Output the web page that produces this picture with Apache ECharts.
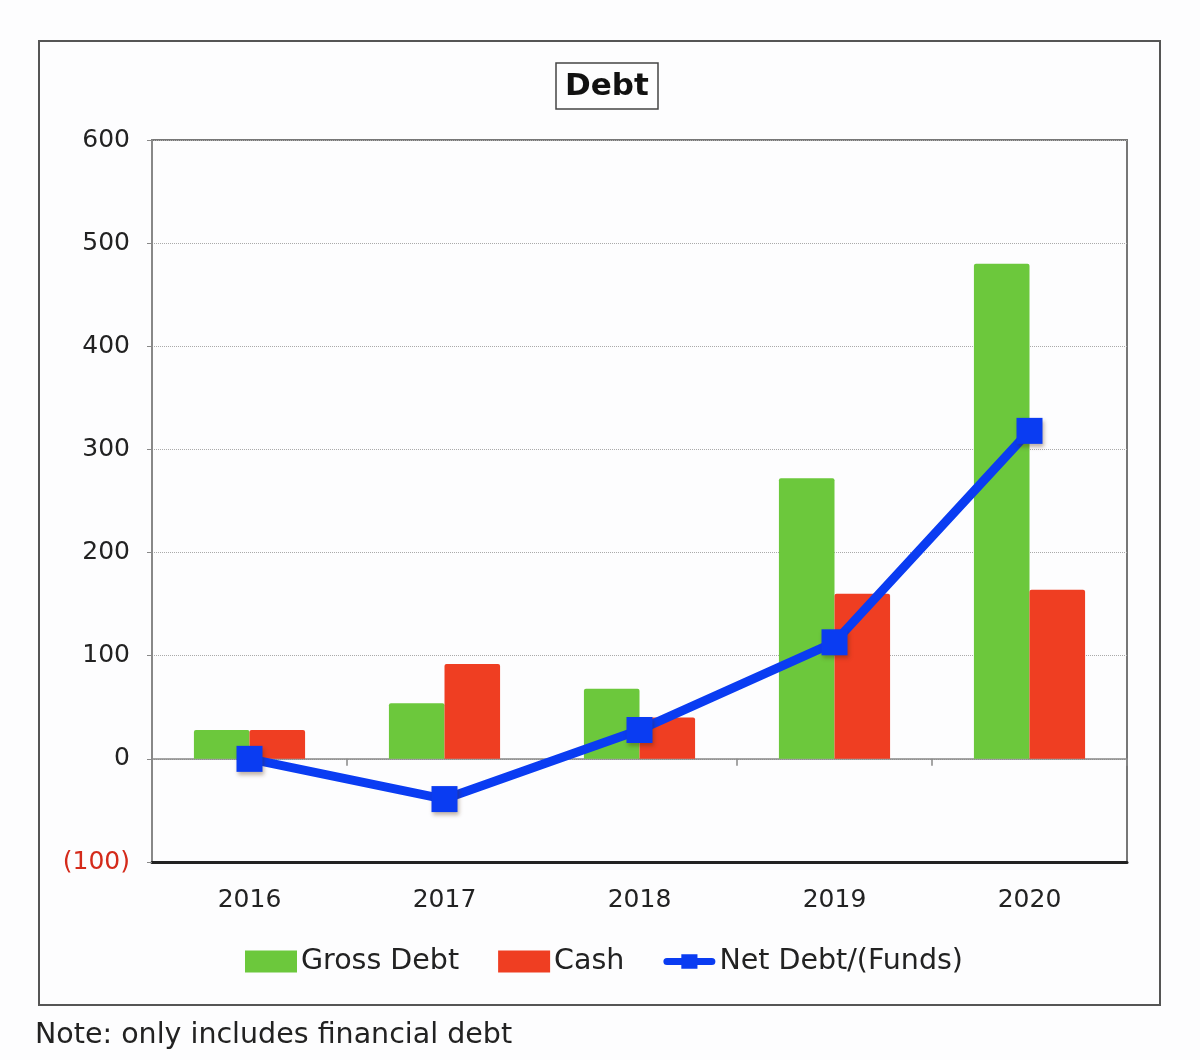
<!DOCTYPE html>
<html><head><meta charset="utf-8">
<script src="https://cdn.jsdelivr.net/npm/echarts@6/dist/echarts.min.js"></script>
<style>html,body{margin:0;padding:0;background:#fdfdfe;}#c{width:1200px;height:1060px;}</style>
</head><body><div id="c"></div>
<script>
const years = ['2016','2017','2018','2019','2020'];
const grossDebt = [28, 54, 68, 272, 480];
const cash = [28, 92, 40, 160, 164];
const netDebt = [0, -39, 28, 113, 318];
const yTicks = {min: -100, max: 600, interval: 100};

const FONT = 'DejaVu Sans';
const lineIcon = 'path://M4,4 L20,4 L20,0 L38,0 L38,4 L54,4 Q58,4 58,8 Q58,12 54,12 L38,12 L38,16 L20,16 L20,12 L4,12 Q0,12 0,8 Q0,4 4,4 Z';
const chart = echarts.init(document.getElementById('c'));
chart.setOption({
  backgroundColor: '#fdfdfe',
  animation: false,
  textStyle: {fontFamily: FONT},
  title: {
    text: 'Debt', left: 556, top: 63,
    padding: [8, 9, 7, 9],
    borderColor: '#444', borderWidth: 1.5,
    textStyle: {fontFamily: FONT, fontWeight: 'bold', fontSize: 31, color: '#111'}
  },
  grid: {left: 152, right: 73, top: 140, bottom: 198, show: true, borderColor: '#777', borderWidth: 2, backgroundColor: 'transparent'},
  legend: {
    bottom: 79, left: 240,
    itemWidth: 52, itemHeight: 22, itemGap: 39,
    textStyle: {fontFamily: FONT, fontSize: 28.5, color: '#222', padding: [0,0,0,-1]},
    data: [
      {name: 'Gross Debt', icon: 'rect'},
      {name: 'Cash', icon: 'rect'},
      {name: 'Net Debt/(Funds)', icon: lineIcon}
    ]
  },
  xAxis: [{
    type: 'category', data: years, position: 'bottom',
    axisLine: {onZero: false, lineStyle: {color: '#222', width: 3}},
    axisTick: {show: false},
    axisLabel: {fontFamily: FONT, fontSize: 25, color: '#222', margin: 26}
  }, {
    type: 'category', data: years, position: 'top',
    axisLine: {onZero: true, lineStyle: {color: '#888', width: 1.5}},
    axisTick: {show: true, inside: true, length: 7, lineStyle: {color: '#888', width: 1.5}},
    axisLabel: {show: false}
  }],
  yAxis: {
    type: 'value', min: yTicks.min, max: yTicks.max, interval: yTicks.interval,
    axisLine: {show: true, lineStyle: {color: '#888', width: 2}},
    axisTick: {show: true, length: 5, lineStyle: {color: '#888'}},
    splitLine: {show: true, lineStyle: {color: '#aaa', type: 'dotted', width: 1}},
    axisLabel: {
      fontFamily: FONT, fontSize: 25, margin: 22,
      formatter: v => v < 0 ? '(' + Math.abs(v) + ')' : String(v),
      color: v => (Number(v) < 0 ? '#d42a1a' : '#222')
    }
  },
  series: [{
    name: 'Gross Debt', type: 'bar', data: grossDebt, barGap: '0%', barCategoryGap: '43%',
    itemStyle: {color: '#6cc83c', borderRadius: [2,2,0,0]}
  }, {
    name: 'Cash', type: 'bar', data: cash,
    itemStyle: {color: '#ef3e22', borderRadius: [2,2,0,0]}
  }, {
    name: 'Net Debt/(Funds)', type: 'line', data: netDebt,
    symbol: 'rect', symbolSize: 26,
    lineStyle: {color: '#0a3cf2', width: 9},
    itemStyle: {color: '#0a3cf2', shadowBlur: 4, shadowColor: 'rgba(80,40,0,0.35)', shadowOffsetX: 1, shadowOffsetY: 3},
    z: 5
  }],
  graphic: [{
    type: 'rect', shape: {x: 39, y: 41, width: 1121, height: 964},
    style: {fill: 'none', stroke: '#555', lineWidth: 2}, silent: true
  }, {
    type: 'text', left: 35, top: 1021,
    style: {text: 'Note: only includes financial debt', font: '28.5px "DejaVu Sans"', fill: '#222'}
  }]
});
</script></body></html>
